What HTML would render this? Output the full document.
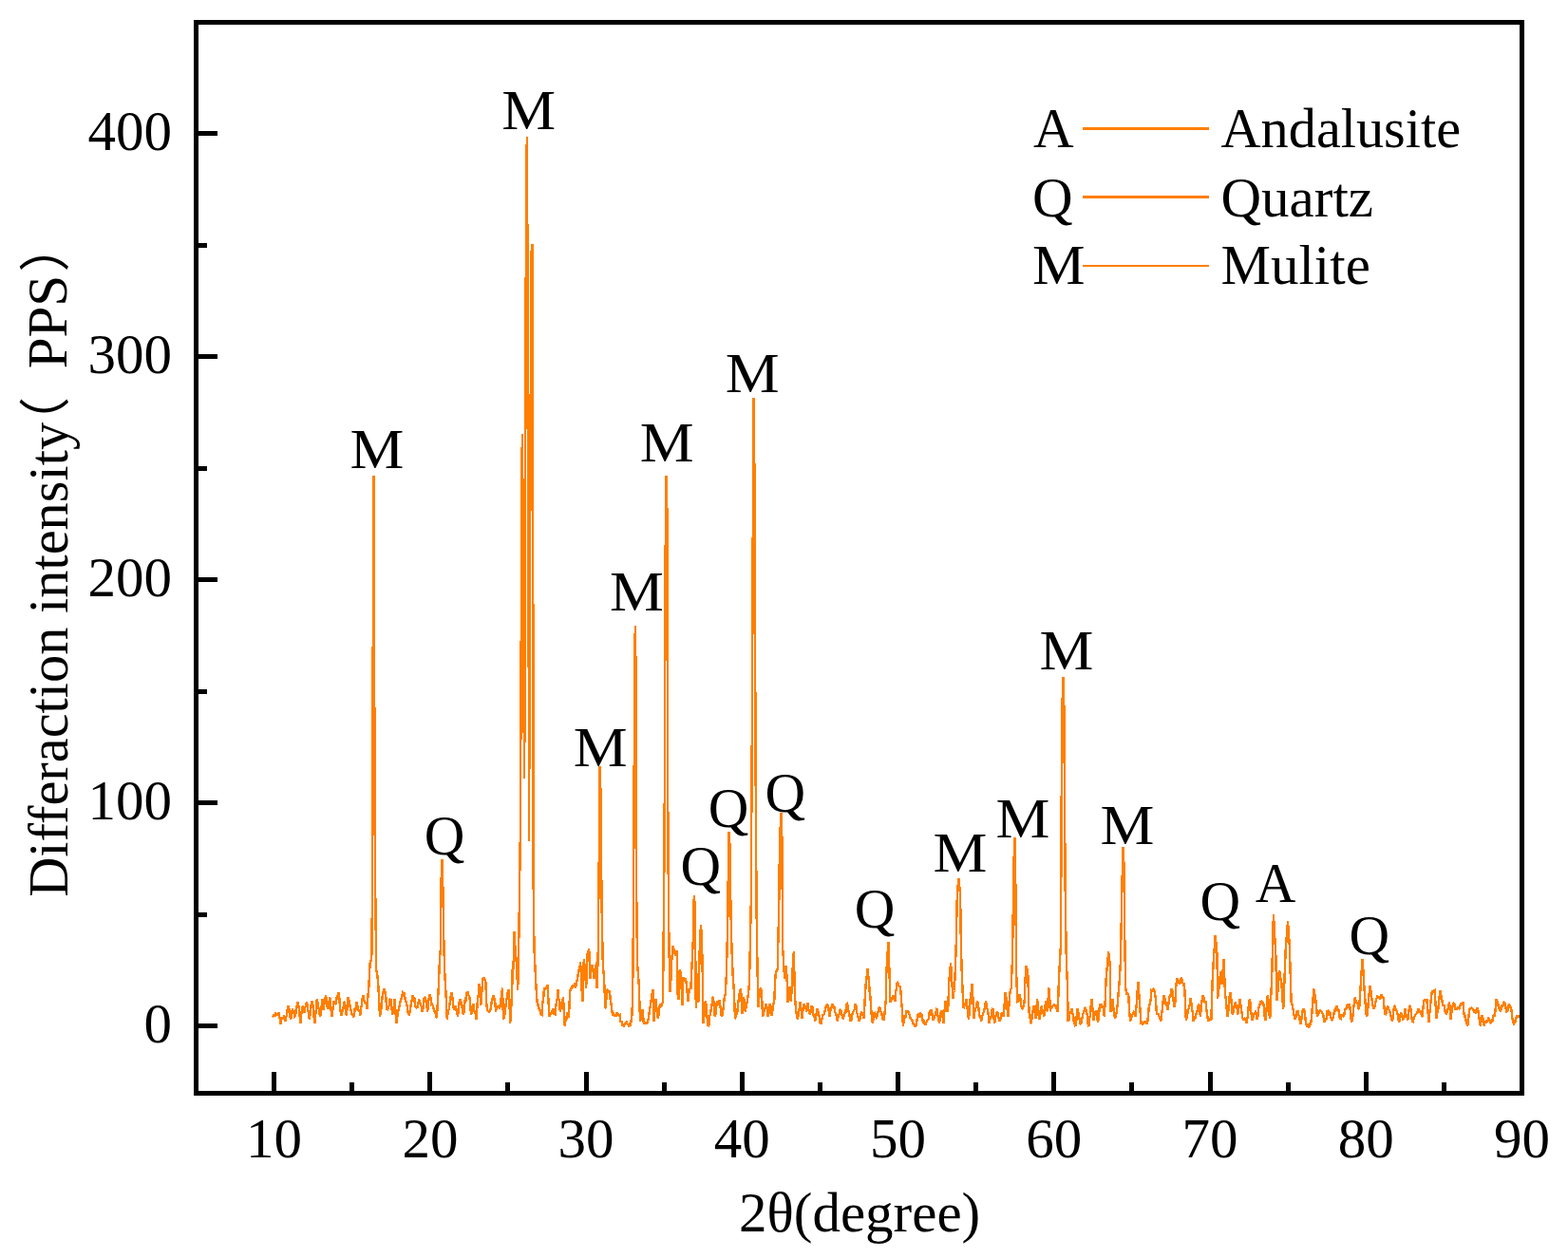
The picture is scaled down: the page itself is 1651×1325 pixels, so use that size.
<!DOCTYPE html><html><head><meta charset="utf-8"><style>html,body{margin:0;padding:0;background:#fff;overflow:hidden}svg{display:block}</style></head><body>
<svg width="1651" height="1325" viewBox="0 0 1651 1325">
<rect width="1651" height="1325" fill="#fff"/>
<path d="M287.0,1071.5 L287.8,1069.8 L288.6,1068.1 L289.4,1071.0 L290.2,1066.6 L291.0,1069.0 L291.8,1069.2 L292.5,1068.1 L293.2,1066.0 L294.0,1069.0 L294.9,1073.9 L295.7,1078.7 L296.6,1072.1 L297.6,1071.8 L298.4,1072.2 L299.1,1070.7 L299.9,1071.7 L300.6,1075.4 L301.4,1070.8 L302.1,1069.5 L302.9,1060.6 L303.6,1059.1 L304.4,1062.1 L305.2,1069.7 L306.0,1073.7 L306.9,1070.9 L307.9,1062.1 L308.7,1065.5 L309.5,1067.1 L310.3,1070.6 L311.1,1069.9 L312.0,1059.6 L312.9,1061.2 L313.7,1054.8 L314.6,1061.0 L315.4,1067.6 L316.3,1077.7 L317.1,1068.9 L318.0,1064.0 L318.8,1059.1 L319.7,1065.0 L320.6,1066.7 L321.4,1060.6 L322.2,1059.3 L323.0,1054.8 L323.9,1062.0 L324.9,1066.5 L325.8,1073.7 L326.7,1067.7 L327.6,1058.1 L328.5,1054.8 L329.2,1057.5 L330.0,1064.3 L330.8,1073.2 L331.5,1077.7 L332.3,1068.6 L333.1,1059.2 L333.9,1051.8 L334.7,1057.2 L335.4,1061.2 L336.2,1065.0 L337.0,1071.2 L337.8,1066.9 L338.6,1060.0 L339.4,1052.3 L340.6,1063.7 L341.4,1056.8 L342.2,1053.8 L343.0,1048.1 L343.8,1053.1 L344.6,1060.4 L345.4,1062.7 L346.3,1057.9 L347.2,1050.0 L348.0,1055.6 L348.9,1067.4 L349.7,1071.2 L350.6,1060.7 L351.5,1055.3 L352.3,1055.2 L353.1,1058.0 L353.9,1056.7 L354.7,1050.5 L355.5,1048.9 L356.3,1045.1 L357.1,1048.0 L357.8,1058.4 L358.6,1065.1 L359.3,1069.4 L360.2,1066.2 L361.1,1064.7 L362.1,1057.2 L363.0,1054.8 L363.9,1063.4 L364.8,1069.4 L365.7,1060.3 L366.6,1050.0 L367.4,1054.0 L368.1,1056.7 L368.9,1062.8 L369.6,1064.0 L370.4,1068.8 L371.1,1067.4 L371.9,1070.5 L372.7,1071.2 L373.4,1064.1 L374.2,1064.4 L374.9,1059.9 L375.7,1054.8 L376.6,1061.8 L377.5,1064.3 L378.4,1064.3 L379.3,1069.4 L380.1,1062.2 L381.0,1057.6 L381.8,1050.0 L382.6,1048.7 L383.4,1053.5 L384.2,1055.7 L385.0,1055.8 L385.8,1057.8 L386.6,1062.7 L387.5,1047.8 L388.4,1038.8 L389.6,1014.5 L390.6,1011.6 L391.5,1005.0 L392.2,880.0 L392.6,706.0 L393.0,624.0 L393.4,501.0 L393.9,600.0 L394.3,739.0 L394.7,880.0 L395.5,965.0 L396.3,1021.8 L397.2,1025.6 L398.1,1034.5 L399.1,1051.1 L400.0,1071.2 L400.8,1064.4 L401.7,1061.6 L402.5,1050.2 L403.4,1046.6 L404.2,1040.9 L405.1,1043.8 L406.0,1046.0 L407.2,1062.7 L408.0,1063.2 L408.9,1060.7 L409.7,1058.9 L410.6,1052.9 L411.4,1052.3 L412.3,1059.9 L413.2,1068.7 L414.0,1062.3 L414.9,1060.4 L415.7,1052.3 L416.6,1068.1 L417.5,1077.7 L418.2,1071.1 L419.0,1066.9 L419.8,1063.1 L420.5,1060.6 L421.4,1054.9 L422.4,1052.7 L423.3,1049.6 L424.2,1045.1 L425.0,1045.8 L425.8,1046.3 L426.6,1052.0 L427.4,1054.8 L428.3,1057.8 L429.1,1062.5 L430.0,1068.4 L430.8,1068.7 L431.7,1064.8 L432.6,1058.5 L433.6,1054.0 L434.5,1048.1 L435.3,1052.0 L436.2,1050.4 L437.0,1058.9 L437.9,1060.7 L438.7,1061.5 L439.5,1061.0 L440.3,1057.4 L441.1,1052.3 L442.0,1054.9 L442.9,1058.3 L443.8,1059.7 L444.7,1065.7 L445.5,1061.4 L446.4,1052.3 L447.2,1050.0 L447.9,1051.0 L448.7,1055.9 L449.4,1059.5 L450.2,1065.7 L451.1,1055.8 L452.0,1048.1 L452.8,1048.4 L453.6,1051.3 L454.4,1058.0 L455.2,1057.6 L455.9,1059.3 L456.7,1063.1 L457.5,1066.0 L458.3,1064.5 L459.1,1072.0 L459.9,1071.2 L460.8,1057.0 L461.7,1041.2 L462.9,1012.0 L463.8,1000.0 L464.5,933.0 L465.2,906.0 L465.8,906.0 L466.5,944.0 L467.5,1000.0 L468.4,1027.9 L469.6,1047.8 L470.8,1073.7 L471.5,1067.4 L472.3,1064.2 L473.0,1062.0 L473.8,1055.2 L474.7,1049.6 L475.5,1044.8 L476.4,1050.4 L477.3,1061.2 L478.0,1062.9 L478.8,1063.3 L479.5,1059.3 L480.4,1062.9 L481.2,1066.8 L482.1,1070.7 L482.9,1061.7 L483.7,1055.6 L484.5,1052.1 L485.4,1055.1 L486.4,1058.7 L487.3,1066.6 L488.2,1068.4 L488.9,1060.2 L489.7,1053.4 L490.4,1053.8 L491.2,1044.8 L491.9,1046.1 L492.7,1044.7 L493.4,1048.5 L494.2,1049.4 L495.1,1056.0 L496.0,1069.0 L496.8,1065.2 L497.7,1064.2 L498.5,1056.9 L499.2,1063.6 L500.0,1066.7 L500.8,1068.0 L501.5,1073.9 L502.2,1063.4 L503.0,1052.5 L503.8,1047.1 L504.5,1035.7 L505.4,1047.4 L506.3,1058.7 L507.2,1046.8 L508.2,1031.2 L508.9,1030.0 L509.7,1029.2 L510.4,1033.1 L511.2,1030.9 L512.4,1059.0 L513.1,1063.9 L513.9,1064.6 L514.6,1065.9 L515.4,1065.4 L516.3,1064.0 L517.1,1060.0 L518.0,1053.0 L518.8,1051.4 L519.7,1047.8 L520.5,1052.7 L521.3,1056.3 L522.1,1065.4 L522.9,1060.8 L523.7,1061.2 L524.5,1059.7 L525.3,1061.2 L526.1,1061.7 L526.9,1057.2 L528.0,1048.5 L529.0,1040.6 L530.0,1073.9 L530.8,1071.9 L531.5,1067.4 L532.2,1062.2 L533.0,1054.2 L533.8,1050.3 L534.5,1046.3 L535.2,1043.4 L536.0,1042.3 L537.2,1078.1 L538.1,1062.3 L539.0,1050.6 L539.7,1021.5 L540.5,1020.0 L541.6,981.3 L542.5,1000.0 L543.5,1010.0 L544.4,1024.3 L545.2,1042.7 L546.3,990.0 L546.9,948.0 L548.0,866.0 L549.0,600.0 L549.8,457.0 L550.5,520.0 L551.5,750.0 L552.2,819.7 L553.2,500.0 L554.0,185.0 L554.9,144.0 L555.6,300.0 L556.2,377.0 L557.0,885.7 L557.8,700.0 L558.8,391.0 L559.6,265.0 L560.4,257.0 L561.0,400.0 L561.7,937.0 L562.5,1000.0 L563.3,1015.4 L564.1,1032.5 L565.0,1048.0 L565.6,1055.3 L566.3,1057.2 L567.1,1061.9 L568.0,1061.8 L568.8,1065.3 L569.7,1068.7 L570.5,1069.0 L571.3,1056.6 L572.2,1051.0 L573.0,1040.3 L573.9,1042.4 L574.8,1040.8 L575.7,1039.9 L576.6,1037.5 L577.5,1054.1 L578.4,1070.9 L579.3,1066.9 L580.1,1069.2 L581.0,1064.3 L581.8,1065.7 L582.7,1061.8 L583.6,1068.3 L584.5,1068.4 L585.2,1061.2 L586.0,1054.7 L586.8,1051.9 L587.5,1042.3 L588.3,1051.7 L589.1,1055.9 L589.9,1066.0 L590.7,1059.4 L591.5,1055.5 L592.2,1056.5 L593.0,1049.7 L593.9,1067.5 L594.8,1081.2 L595.6,1073.7 L596.4,1073.3 L597.2,1066.0 L598.1,1071.7 L599.0,1070.9 L600.2,1042.0 L601.1,1042.6 L601.9,1040.1 L602.8,1041.0 L603.6,1037.7 L604.5,1039.7 L605.3,1035.2 L606.1,1040.4 L606.9,1036.0 L607.8,1032.2 L608.7,1026.3 L609.5,1022.1 L610.3,1020.6 L611.1,1013.3 L611.9,1026.8 L612.7,1043.7 L613.5,1055.1 L614.1,1034.6 L614.8,1009.7 L615.6,1018.0 L616.4,1028.6 L617.2,1040.6 L618.4,1005.1 L619.3,1002.2 L620.2,999.3 L621.4,1030.9 L622.2,1024.6 L623.0,1019.4 L623.8,1016.3 L624.8,1024.2 L625.7,1030.9 L626.5,1023.4 L627.3,1018.6 L628.1,1013.3 L628.7,1041.2 L629.8,1000.0 L630.8,900.0 L631.7,807.0 L632.6,840.0 L633.5,950.0 L634.1,982.7 L634.8,1015.4 L635.7,1026.2 L636.6,1042.0 L637.2,1062.4 L638.1,1055.8 L639.0,1043.6 L639.8,1042.8 L640.5,1043.8 L641.2,1044.8 L642.0,1044.5 L642.8,1054.1 L643.6,1057.6 L644.4,1065.0 L645.2,1069.4 L646.1,1068.1 L646.9,1069.7 L647.7,1069.9 L648.5,1069.8 L649.3,1066.4 L650.1,1069.2 L650.9,1067.5 L651.7,1069.6 L652.6,1069.0 L653.5,1077.1 L654.4,1075.6 L655.3,1080.6 L656.2,1079.6 L657.1,1080.6 L658.1,1078.7 L659.0,1077.5 L659.8,1076.8 L660.6,1078.7 L661.4,1079.4 L662.2,1081.5 L663.0,1077.4 L663.8,1080.6 L664.7,1074.5 L665.6,1067.5 L666.5,1020.0 L667.3,900.0 L667.8,788.0 L668.2,717.0 L668.8,659.0 L669.3,687.0 L669.8,800.0 L670.3,950.0 L671.0,1014.2 L671.7,1022.7 L672.9,1039.7 L673.5,1060.3 L674.1,1076.3 L674.9,1070.4 L675.7,1066.3 L676.5,1063.6 L677.7,1076.6 L678.5,1078.8 L679.2,1077.4 L680.0,1078.1 L680.7,1078.1 L681.5,1076.9 L682.4,1075.0 L683.2,1069.3 L684.0,1063.9 L684.7,1060.1 L685.5,1054.4 L686.2,1049.4 L687.4,1042.3 L688.6,1075.7 L689.5,1064.0 L690.4,1052.1 L691.2,1060.5 L692.1,1065.9 L692.9,1073.3 L693.8,1066.4 L694.7,1059.0 L695.5,1058.1 L696.2,1060.5 L697.0,1058.1 L697.7,1056.0 L698.3,1025.1 L699.5,900.0 L700.3,700.0 L700.8,550.0 L701.7,501.0 L702.3,528.0 L702.8,729.0 L703.5,900.0 L704.5,1000.0 L705.6,1045.4 L706.5,1030.0 L707.4,1009.4 L708.6,995.8 L709.5,1000.0 L710.4,1004.2 L711.2,1006.6 L712.0,1001.4 L712.8,1002.4 L713.5,1047.0 L714.7,1052.7 L715.3,1021.8 L716.2,1023.3 L717.1,1024.0 L718.3,1059.4 L719.5,1029.1 L720.3,1032.4 L721.1,1032.0 L721.9,1030.0 L722.7,1035.9 L723.6,1044.2 L724.4,1055.1 L725.6,1043.3 L726.5,1041.7 L727.4,1040.9 L728.6,1015.4 L729.8,990.0 L730.5,951.0 L730.9,943.0 L731.5,951.0 L732.2,1000.0 L732.8,1062.4 L733.4,1025.4 L734.3,1037.9 L735.3,1056.3 L736.1,1023.1 L737.0,990.0 L738.0,974.3 L739.0,990.0 L740.1,1042.0 L740.7,1078.1 L741.5,1068.5 L742.3,1059.5 L743.1,1054.5 L743.9,1064.6 L744.8,1074.2 L745.6,1081.2 L746.4,1079.4 L747.1,1069.9 L747.9,1069.2 L748.6,1063.3 L749.4,1059.9 L750.2,1051.8 L751.0,1049.7 L751.9,1062.9 L752.8,1070.9 L753.7,1066.9 L754.6,1056.6 L755.4,1054.2 L756.2,1058.6 L756.9,1054.3 L757.7,1054.5 L758.5,1059.9 L759.3,1068.8 L760.1,1070.9 L761.0,1067.2 L761.9,1059.0 L762.8,1050.7 L763.7,1047.0 L764.9,1026.3 L765.6,997.1 L766.3,968.0 L767.0,900.0 L767.5,876.0 L768.4,889.0 L769.5,960.0 L770.5,1000.0 L771.6,1026.3 L772.8,1043.3 L774.0,1073.3 L774.8,1070.1 L775.6,1067.9 L776.4,1065.1 L777.2,1057.1 L778.1,1049.3 L778.9,1044.5 L780.1,1041.2 L781.3,1068.4 L782.2,1057.8 L783.1,1049.7 L784.0,1059.4 L784.9,1066.0 L785.7,1057.6 L786.6,1056.1 L787.4,1050.6 L788.6,1040.9 L789.2,1026.3 L790.0,988.1 L790.8,950.0 L791.5,825.0 L792.2,700.0 L793.1,465.0 L793.6,419.0 L794.1,439.0 L794.8,600.0 L795.8,850.0 L796.8,980.0 L797.6,1022.7 L798.3,1061.2 L799.2,1052.0 L800.1,1043.6 L801.0,1040.8 L801.9,1044.5 L803.1,1070.9 L804.0,1066.3 L804.9,1064.7 L805.8,1060.5 L806.7,1056.9 L807.6,1060.9 L808.5,1070.9 L809.5,1067.2 L810.4,1056.9 L811.3,1064.9 L812.2,1069.0 L813.0,1068.8 L813.7,1059.5 L814.5,1057.2 L815.2,1055.4 L816.4,1028.8 L817.2,1022.4 L818.0,1024.2 L818.8,1019.0 L819.5,984.5 L820.3,950.0 L821.0,883.0 L821.8,869.5 L822.5,856.0 L823.3,878.0 L823.8,950.0 L824.3,1000.9 L825.2,1014.3 L826.1,1030.9 L827.0,1021.4 L827.9,1017.0 L828.8,1036.1 L829.7,1056.3 L830.7,1050.3 L831.6,1038.8 L832.8,1055.1 L833.5,1044.1 L834.3,1027.1 L835.0,1013.2 L835.8,1002.4 L837.0,1050.6 L838.2,1063.9 L839.1,1071.5 L840.0,1073.3 L840.8,1067.7 L841.7,1062.5 L842.5,1055.1 L843.4,1061.4 L844.3,1073.3 L845.1,1064.8 L845.9,1063.6 L846.7,1056.9 L847.5,1059.4 L848.3,1060.1 L849.1,1066.0 L850.3,1055.7 L851.1,1062.9 L852.0,1065.1 L852.8,1068.4 L853.7,1065.9 L854.6,1059.3 L855.5,1060.6 L856.4,1069.9 L857.3,1068.7 L858.2,1075.7 L859.2,1071.2 L860.3,1061.8 L861.1,1064.7 L862.0,1067.2 L862.8,1071.9 L863.7,1077.7 L864.5,1078.1 L865.4,1073.4 L866.4,1069.3 L867.3,1068.7 L868.1,1066.9 L869.0,1062.9 L869.8,1060.0 L870.7,1058.4 L871.5,1058.7 L872.4,1061.7 L873.3,1070.9 L874.2,1065.4 L875.1,1062.6 L876.1,1059.1 L877.0,1056.9 L877.8,1061.8 L878.6,1061.7 L879.4,1066.3 L880.2,1067.2 L881.0,1071.5 L881.8,1075.7 L882.7,1069.5 L883.6,1068.3 L884.5,1063.8 L885.4,1064.2 L886.2,1068.8 L887.1,1070.6 L887.9,1073.3 L888.7,1067.9 L889.6,1066.6 L890.4,1066.4 L891.3,1057.5 L892.1,1056.9 L893.0,1063.8 L893.9,1065.8 L894.8,1071.0 L895.7,1075.7 L896.5,1074.8 L897.3,1068.7 L898.2,1066.3 L899.0,1064.4 L899.8,1063.3 L900.6,1056.9 L901.4,1059.6 L902.3,1066.7 L903.1,1069.6 L904.0,1072.9 L904.8,1075.7 L905.5,1072.8 L906.3,1070.1 L907.0,1065.8 L907.8,1066.6 L908.8,1067.4 L909.7,1073.3 L910.9,1048.1 L911.7,1035.8 L912.5,1031.0 L913.3,1020.0 L914.1,1026.5 L914.9,1034.0 L915.7,1044.5 L916.5,1049.9 L917.2,1063.3 L918.0,1071.8 L918.8,1077.5 L919.7,1072.9 L920.6,1066.0 L921.4,1067.0 L922.2,1069.1 L923.0,1073.3 L923.8,1068.1 L924.6,1065.4 L925.4,1061.8 L926.3,1061.4 L927.2,1065.3 L928.1,1065.9 L929.1,1072.6 L930.0,1074.6 L930.9,1073.3 L931.8,1064.1 L932.7,1054.2 L933.3,1025.1 L934.3,1008.6 L935.4,992.1 L936.5,1024.2 L937.5,1056.3 L938.3,1051.9 L939.2,1054.2 L940.0,1048.4 L940.8,1049.3 L941.6,1051.9 L942.4,1055.1 L943.2,1044.6 L944.0,1040.2 L944.8,1033.9 L945.7,1036.1 L946.6,1038.6 L947.5,1038.9 L948.4,1043.3 L949.2,1055.8 L950.1,1064.8 L950.9,1080.6 L951.7,1076.1 L952.6,1072.0 L953.4,1071.2 L954.3,1065.8 L955.1,1066.0 L956.0,1064.2 L956.9,1067.6 L957.8,1068.6 L958.7,1072.4 L959.6,1073.5 L960.5,1074.8 L961.4,1078.0 L962.4,1078.8 L963.3,1080.6 L964.2,1080.6 L965.0,1079.2 L965.8,1071.9 L966.6,1068.7 L967.4,1067.5 L968.3,1072.0 L969.1,1066.3 L970.0,1070.2 L970.8,1068.7 L971.5,1074.4 L972.1,1078.1 L972.9,1074.3 L973.8,1079.1 L974.6,1078.8 L975.5,1076.3 L976.3,1074.8 L977.1,1074.2 L978.0,1072.4 L978.8,1065.6 L979.7,1066.0 L980.5,1063.6 L981.5,1068.5 L982.4,1073.3 L983.2,1073.3 L984.1,1070.8 L984.9,1068.6 L985.8,1064.7 L986.6,1061.8 L987.4,1069.7 L988.2,1073.5 L989.0,1077.5 L989.8,1074.4 L990.6,1066.8 L991.4,1064.2 L992.3,1068.0 L993.3,1078.1 L994.1,1067.7 L994.9,1061.4 L995.7,1054.5 L996.5,1055.6 L997.3,1064.5 L998.1,1066.0 L999.3,1033.6 L1000.2,1024.1 L1001.1,1013.9 L1001.9,1027.5 L1002.7,1040.2 L1003.5,1052.1 L1004.5,1043.5 L1005.4,1032.4 L1006.6,1000.9 L1007.2,970.5 L1007.9,940.0 L1008.7,932.5 L1009.5,925.0 L1010.3,934.2 L1011.1,943.4 L1011.8,990.0 L1012.6,1020.3 L1013.5,1041.3 L1014.4,1062.4 L1015.2,1056.4 L1016.0,1059.3 L1016.7,1056.4 L1017.5,1052.1 L1018.3,1059.4 L1019.1,1066.9 L1019.9,1073.9 L1020.8,1065.4 L1021.7,1051.8 L1022.6,1046.9 L1023.5,1035.7 L1024.5,1052.8 L1025.4,1073.3 L1026.3,1065.7 L1027.2,1062.3 L1028.1,1060.8 L1029.0,1054.5 L1029.8,1056.7 L1030.7,1064.6 L1031.5,1070.5 L1032.4,1071.4 L1033.2,1075.7 L1034.0,1071.4 L1034.8,1068.5 L1035.7,1066.3 L1036.5,1063.4 L1037.3,1058.8 L1038.1,1054.5 L1039.0,1061.4 L1039.9,1063.4 L1040.8,1069.8 L1041.7,1078.1 L1042.6,1072.4 L1043.5,1071.6 L1044.4,1064.5 L1045.3,1061.8 L1046.2,1070.4 L1047.2,1078.1 L1048.0,1071.6 L1048.7,1068.8 L1049.5,1067.0 L1050.2,1065.4 L1051.0,1070.0 L1051.8,1073.6 L1052.6,1075.7 L1053.4,1073.9 L1054.2,1068.2 L1055.0,1066.6 L1055.9,1068.9 L1056.8,1070.9 L1057.7,1057.6 L1058.6,1044.8 L1059.4,1051.1 L1060.2,1055.3 L1060.9,1067.1 L1061.7,1070.9 L1062.9,1050.6 L1063.8,1043.7 L1064.7,1040.9 L1065.9,1011.8 L1066.6,970.9 L1067.2,930.0 L1067.6,906.0 L1068.4,882.0 L1069.0,900.0 L1069.5,949.5 L1070.1,1022.7 L1070.8,1042.2 L1071.4,1055.1 L1072.3,1054.7 L1073.2,1048.4 L1074.0,1048.5 L1074.7,1054.8 L1075.5,1060.6 L1076.2,1061.8 L1077.0,1063.2 L1077.8,1058.0 L1078.6,1056.6 L1079.2,1038.5 L1080.4,1017.0 L1081.3,1020.1 L1082.3,1026.3 L1083.5,1066.3 L1084.3,1068.3 L1085.1,1077.2 L1085.9,1078.1 L1086.7,1069.9 L1087.5,1066.1 L1088.3,1059.3 L1089.1,1061.5 L1089.9,1068.8 L1090.7,1073.3 L1091.3,1065.8 L1092.0,1052.1 L1092.8,1056.9 L1093.6,1068.8 L1094.4,1073.9 L1095.2,1069.1 L1096.0,1066.8 L1096.8,1059.3 L1097.6,1064.5 L1098.4,1065.2 L1099.2,1070.9 L1100.1,1065.4 L1101.0,1054.5 L1101.9,1059.9 L1102.8,1065.4 L1103.8,1049.8 L1104.7,1040.6 L1105.9,1065.4 L1106.7,1060.1 L1107.5,1061.5 L1108.3,1059.7 L1109.1,1059.2 L1109.9,1058.1 L1110.7,1059.3 L1111.5,1058.5 L1112.2,1061.6 L1113.0,1063.1 L1113.8,1066.0 L1115.0,1030.0 L1115.9,1013.6 L1116.8,997.3 L1117.5,900.0 L1118.0,757.0 L1118.7,735.0 L1119.4,713.0 L1120.3,740.0 L1121.0,849.0 L1121.8,950.0 L1122.8,1010.6 L1124.0,1038.5 L1124.7,1075.7 L1125.6,1074.7 L1126.5,1065.7 L1127.4,1067.4 L1128.3,1062.4 L1129.1,1068.5 L1130.0,1067.3 L1130.8,1076.6 L1131.7,1078.9 L1132.5,1081.2 L1133.4,1074.2 L1134.3,1061.8 L1135.1,1064.4 L1135.8,1069.1 L1136.6,1073.3 L1137.4,1078.1 L1138.2,1079.0 L1139.0,1073.7 L1139.8,1070.6 L1140.5,1067.5 L1141.3,1065.7 L1142.0,1062.5 L1142.8,1061.8 L1143.7,1063.6 L1144.7,1068.8 L1145.6,1078.6 L1146.5,1081.2 L1147.2,1072.5 L1148.0,1069.6 L1148.8,1057.7 L1149.5,1052.1 L1150.4,1061.7 L1151.3,1074.5 L1152.0,1072.0 L1152.8,1067.2 L1153.5,1065.9 L1154.3,1064.2 L1155.2,1073.4 L1156.2,1076.3 L1157.1,1069.2 L1158.0,1056.9 L1158.9,1059.5 L1159.8,1058.8 L1160.7,1061.3 L1161.6,1059.0 L1162.8,1070.9 L1163.7,1054.0 L1164.6,1031.2 L1165.4,1021.9 L1166.3,1013.5 L1167.1,1002.4 L1168.0,1008.3 L1168.9,1020.3 L1169.5,1066.0 L1170.4,1060.6 L1171.3,1052.1 L1172.2,1060.1 L1173.1,1068.7 L1174.0,1071.5 L1174.9,1070.9 L1175.8,1065.3 L1176.7,1057.8 L1177.7,1044.8 L1178.6,1034.8 L1179.8,1014.2 L1180.7,972.1 L1181.5,930.0 L1182.6,892.0 L1183.4,910.0 L1184.3,990.0 L1185.2,1040.9 L1186.4,1048.1 L1187.3,1045.7 L1188.3,1049.4 L1189.2,1065.5 L1190.1,1075.7 L1191.0,1070.7 L1191.9,1070.7 L1192.8,1067.4 L1193.7,1066.0 L1194.6,1067.1 L1195.5,1070.9 L1196.2,1063.3 L1197.0,1055.6 L1197.8,1041.5 L1198.5,1033.9 L1199.5,1049.4 L1200.4,1062.7 L1201.6,1078.4 L1202.5,1077.0 L1203.3,1078.8 L1204.2,1077.7 L1205.0,1076.1 L1205.9,1076.1 L1206.7,1076.4 L1207.6,1078.4 L1208.4,1075.3 L1209.2,1066.6 L1210.0,1058.8 L1210.9,1057.6 L1211.7,1052.3 L1212.5,1043.0 L1213.4,1043.3 L1214.3,1041.9 L1215.2,1042.9 L1216.1,1045.7 L1217.0,1053.8 L1217.9,1067.5 L1218.8,1068.1 L1219.6,1068.0 L1220.5,1070.6 L1221.3,1072.4 L1222.2,1075.7 L1223.0,1069.2 L1223.7,1064.4 L1224.5,1056.5 L1225.2,1047.8 L1226.0,1050.4 L1226.9,1053.5 L1227.7,1057.4 L1228.6,1059.6 L1229.4,1063.6 L1230.3,1058.0 L1231.1,1051.7 L1232.0,1048.6 L1232.8,1048.9 L1233.7,1041.2 L1234.5,1043.7 L1235.2,1051.2 L1236.0,1057.1 L1236.7,1061.2 L1237.5,1053.8 L1238.3,1039.5 L1239.1,1031.5 L1239.9,1031.3 L1240.7,1032.5 L1241.4,1034.9 L1242.2,1036.9 L1243.1,1032.6 L1244.0,1029.1 L1244.8,1034.2 L1245.5,1035.5 L1246.2,1037.7 L1247.0,1037.2 L1247.9,1052.6 L1248.8,1074.5 L1250.0,1071.1 L1250.9,1062.8 L1251.8,1062.4 L1252.7,1058.6 L1253.6,1050.8 L1254.4,1056.8 L1255.2,1063.8 L1255.9,1066.1 L1256.7,1075.7 L1257.6,1071.8 L1258.5,1072.3 L1259.4,1068.5 L1260.3,1065.6 L1261.2,1063.2 L1262.1,1056.9 L1263.0,1062.1 L1263.9,1070.8 L1264.7,1060.7 L1265.6,1053.5 L1266.4,1048.4 L1267.2,1050.0 L1267.9,1052.5 L1268.7,1055.8 L1269.4,1054.2 L1270.2,1062.2 L1271.0,1068.1 L1271.8,1073.6 L1272.7,1075.4 L1273.6,1073.3 L1274.5,1074.0 L1275.4,1073.6 L1276.1,1049.9 L1276.7,1032.4 L1277.9,1009.4 L1278.8,997.4 L1279.7,985.4 L1280.6,995.0 L1281.5,1004.5 L1282.1,1051.5 L1283.0,1045.1 L1283.9,1034.8 L1284.8,1027.1 L1285.7,1023.0 L1286.3,1036.9 L1287.0,1030.9 L1287.8,1020.2 L1288.5,1010.3 L1289.2,1027.3 L1290.0,1046.9 L1290.8,1052.3 L1291.6,1061.1 L1292.4,1070.8 L1293.2,1065.4 L1293.9,1059.5 L1294.7,1049.1 L1295.4,1045.4 L1296.2,1050.3 L1297.0,1061.3 L1297.8,1069.0 L1298.6,1066.2 L1299.3,1061.6 L1300.1,1057.1 L1300.9,1055.7 L1301.7,1060.6 L1302.5,1060.8 L1303.3,1068.4 L1304.1,1061.6 L1304.9,1057.3 L1305.7,1052.1 L1306.5,1060.6 L1307.2,1063.8 L1308.0,1070.8 L1308.8,1073.6 L1309.6,1073.7 L1310.5,1072.4 L1311.3,1072.8 L1312.2,1077.9 L1313.0,1075.1 L1313.8,1070.7 L1314.5,1062.3 L1315.2,1054.6 L1316.0,1052.1 L1316.8,1059.8 L1317.6,1068.6 L1318.4,1075.1 L1319.3,1071.8 L1320.2,1068.0 L1321.2,1068.1 L1322.1,1064.2 L1323.3,1073.3 L1324.1,1072.6 L1325.0,1064.2 L1325.8,1059.2 L1326.7,1057.6 L1327.5,1055.1 L1328.3,1054.7 L1329.2,1056.5 L1330.0,1055.4 L1330.8,1059.9 L1331.6,1070.6 L1332.4,1075.1 L1333.2,1067.8 L1334.0,1057.3 L1334.8,1048.4 L1335.6,1054.7 L1336.4,1068.2 L1337.2,1073.3 L1338.1,1052.8 L1339.0,1034.8 L1340.0,998.9 L1340.9,963.0 L1341.7,977.2 L1342.5,991.5 L1343.3,1005.7 L1344.5,1053.9 L1345.3,1045.6 L1346.1,1031.1 L1346.9,1022.4 L1347.7,1024.6 L1348.5,1032.4 L1349.3,1034.8 L1350.2,1047.5 L1351.2,1063.0 L1352.0,1045.8 L1352.8,1022.4 L1353.6,1002.1 L1354.4,991.5 L1355.2,980.9 L1356.0,970.3 L1356.9,983.1 L1357.8,996.0 L1358.7,1025.7 L1359.6,1055.4 L1360.5,1057.7 L1361.4,1062.5 L1362.4,1068.3 L1363.3,1073.3 L1364.1,1071.6 L1364.9,1070.7 L1365.7,1064.8 L1366.5,1064.9 L1367.4,1069.2 L1368.2,1070.5 L1369.1,1078.2 L1369.9,1077.5 L1370.7,1070.0 L1371.5,1064.4 L1372.3,1062.4 L1373.2,1063.8 L1374.2,1070.4 L1375.1,1078.2 L1376.0,1079.9 L1376.8,1082.0 L1377.6,1080.4 L1378.4,1081.6 L1379.2,1080.6 L1380.0,1076.0 L1380.8,1076.6 L1381.6,1062.7 L1382.4,1056.0 L1383.2,1041.2 L1384.0,1048.0 L1384.9,1048.3 L1385.7,1056.6 L1386.9,1069.6 L1387.8,1069.4 L1388.7,1066.1 L1389.6,1064.7 L1390.5,1064.2 L1391.4,1065.6 L1392.2,1067.0 L1393.1,1068.4 L1393.9,1072.9 L1394.8,1076.9 L1395.7,1072.9 L1396.6,1073.9 L1397.5,1065.3 L1398.4,1064.8 L1399.2,1069.4 L1400.0,1065.6 L1400.8,1068.1 L1401.6,1072.7 L1402.4,1074.1 L1403.2,1073.3 L1404.1,1070.0 L1404.9,1064.6 L1405.8,1064.7 L1406.6,1061.2 L1407.5,1059.3 L1408.3,1065.0 L1409.2,1062.8 L1410.0,1066.8 L1410.9,1073.2 L1411.7,1073.3 L1412.6,1068.5 L1413.5,1069.6 L1414.5,1070.7 L1415.4,1068.8 L1416.3,1062.3 L1417.2,1063.9 L1418.1,1059.1 L1419.0,1057.7 L1419.9,1062.0 L1420.8,1057.5 L1421.6,1062.3 L1422.4,1072.1 L1423.2,1076.9 L1424.1,1072.9 L1425.1,1062.5 L1426.0,1055.3 L1426.9,1050.2 L1427.7,1055.9 L1428.6,1056.1 L1429.4,1056.3 L1430.3,1061.9 L1431.1,1063.0 L1432.0,1048.6 L1432.9,1035.1 L1433.8,1020.1 L1434.7,1010.3 L1435.6,1026.6 L1436.6,1042.2 L1437.5,1054.8 L1438.4,1068.4 L1439.2,1070.3 L1440.0,1066.2 L1440.9,1053.6 L1441.7,1045.7 L1442.6,1038.2 L1443.6,1045.3 L1444.6,1052.8 L1445.5,1058.9 L1446.3,1061.9 L1447.2,1061.8 L1448.2,1056.0 L1449.3,1051.8 L1450.2,1049.7 L1451.1,1050.5 L1452.1,1050.5 L1453.0,1053.0 L1453.9,1049.7 L1454.8,1047.5 L1455.6,1051.8 L1456.5,1049.7 L1457.5,1061.0 L1458.5,1069.0 L1459.4,1067.8 L1460.2,1064.1 L1461.1,1058.8 L1462.0,1062.8 L1462.9,1064.2 L1463.9,1067.4 L1464.8,1071.0 L1465.7,1075.2 L1466.5,1073.0 L1467.2,1064.1 L1468.0,1060.8 L1468.8,1058.8 L1469.6,1064.2 L1470.5,1064.4 L1471.3,1066.9 L1472.2,1070.4 L1473.0,1077.2 L1474.0,1072.2 L1475.0,1066.5 L1476.0,1069.1 L1477.1,1074.1 L1477.9,1073.3 L1478.8,1068.6 L1479.6,1061.9 L1480.5,1069.7 L1481.3,1069.2 L1482.2,1075.2 L1483.1,1066.9 L1483.9,1061.5 L1484.8,1058.8 L1485.7,1064.9 L1486.5,1072.5 L1487.4,1077.2 L1488.2,1074.7 L1489.0,1071.2 L1489.7,1070.3 L1490.5,1068.8 L1491.2,1067.9 L1492.0,1066.5 L1492.8,1065.3 L1493.5,1061.9 L1494.3,1065.9 L1495.2,1066.3 L1496.0,1064.2 L1496.9,1070.7 L1497.7,1070.0 L1498.5,1060.8 L1499.2,1054.4 L1500.0,1054.3 L1500.8,1052.4 L1501.5,1054.3 L1502.3,1052.1 L1503.3,1062.6 L1504.4,1077.2 L1505.3,1066.9 L1506.2,1058.4 L1507.1,1049.2 L1508.0,1043.0 L1508.8,1045.6 L1509.7,1043.5 L1510.5,1043.0 L1511.5,1056.9 L1512.6,1073.1 L1513.4,1066.4 L1514.2,1064.5 L1515.1,1055.3 L1515.9,1047.4 L1516.7,1043.3 L1517.5,1049.3 L1518.2,1052.2 L1519.0,1058.4 L1519.8,1059.0 L1520.7,1059.3 L1521.5,1064.8 L1522.4,1068.0 L1523.3,1067.0 L1524.2,1063.9 L1525.1,1061.2 L1526.0,1055.2 L1526.8,1061.3 L1527.5,1073.6 L1528.5,1065.0 L1529.6,1059.3 L1530.5,1057.1 L1531.4,1057.9 L1532.3,1063.6 L1533.1,1061.3 L1534.0,1064.0 L1534.9,1060.6 L1535.8,1061.8 L1536.7,1063.0 L1537.6,1058.8 L1538.6,1056.2 L1539.5,1058.4 L1540.4,1055.2 L1541.2,1065.8 L1541.9,1070.3 L1542.8,1070.1 L1543.7,1076.0 L1544.6,1078.6 L1545.5,1080.3 L1546.5,1069.4 L1547.6,1062.4 L1548.5,1062.2 L1549.4,1061.4 L1550.4,1062.5 L1551.3,1063.5 L1552.2,1065.9 L1553.0,1066.3 L1553.9,1066.3 L1554.7,1063.0 L1555.6,1061.4 L1556.4,1064.4 L1557.4,1071.2 L1558.4,1080.3 L1559.5,1076.2 L1560.5,1069.6 L1561.5,1072.8 L1562.5,1080.3 L1563.3,1077.6 L1564.0,1075.5 L1564.8,1078.1 L1565.6,1074.7 L1566.4,1075.5 L1567.2,1072.7 L1568.1,1073.5 L1568.9,1076.0 L1569.7,1077.2 L1570.5,1076.2 L1571.4,1075.4 L1572.2,1070.3 L1573.1,1069.4 L1573.9,1070.3 L1574.7,1062.5 L1575.4,1052.1 L1576.3,1054.5 L1577.1,1056.6 L1578.0,1061.0 L1578.8,1060.3 L1579.7,1065.3 L1580.5,1062.8 L1581.4,1059.6 L1582.3,1059.5 L1583.3,1056.1 L1584.2,1055.2 L1585.2,1059.7 L1586.2,1065.4 L1587.1,1065.1 L1587.9,1063.3 L1588.8,1057.2 L1589.8,1058.7 L1590.8,1062.1 L1591.6,1064.6 L1592.4,1072.8 L1593.2,1073.7 L1594.0,1080.3 L1594.8,1073.9 L1595.7,1077.0 L1596.5,1071.3 L1597.4,1069.9 L1598.2,1071.8 L1599.1,1068.8" fill="none" stroke="#ff7f00" stroke-width="2.4" stroke-linejoin="miter" stroke-miterlimit="2" shape-rendering="crispEdges"/>
<rect x="206.5" y="23.5" width="1396" height="1128" fill="none" stroke="#000" stroke-width="5"/>
<path d="M288.5,1149 V1129 M452.5,1149 V1129 M617.5,1149 V1129 M781.5,1149 V1129 M945.5,1149 V1129 M1109.5,1149 V1129 M1274.5,1149 V1129 M1438.5,1149 V1129 M1602.5,1149 V1129 M370.5,1149 V1140 M534.5,1149 V1140 M699.5,1149 V1140 M863.5,1149 V1140 M1027.5,1149 V1140 M1191.5,1149 V1140 M1356.5,1149 V1140 M1520.5,1149 V1140 M209,1080.5 H229 M209,845.5 H229 M209,610.5 H229 M209,375.5 H229 M209,140.5 H229 M209,963.5 H218 M209,728.5 H218 M209,493.5 H218 M209,258.5 H218 M209,23.5 H218" stroke="#000" stroke-width="5" fill="none"/>
<g font-family="'Liberation Serif', serif" font-size="59" fill="#000">
<text x="288.6" y="1219" text-anchor="middle">10</text>
<text x="452.9" y="1219" text-anchor="middle">20</text>
<text x="617.1" y="1219" text-anchor="middle">30</text>
<text x="781.3" y="1219" text-anchor="middle">40</text>
<text x="945.6" y="1219" text-anchor="middle">50</text>
<text x="1109.8" y="1219" text-anchor="middle">60</text>
<text x="1274.0" y="1219" text-anchor="middle">70</text>
<text x="1438.3" y="1219" text-anchor="middle">80</text>
<text x="1602.5" y="1219" text-anchor="middle">90</text>
<text x="181" y="1097.5" text-anchor="end">0</text>
<text x="181" y="862.5" text-anchor="end">100</text>
<text x="181" y="627.6" text-anchor="end">200</text>
<text x="181" y="392.6" text-anchor="end">300</text>
<text x="181" y="157.6" text-anchor="end">400</text>
<text transform="translate(397,493) scale(1.085,1)" text-anchor="middle">M</text>
<text x="468" y="900" text-anchor="middle">Q</text>
<text transform="translate(556.8,136.2) scale(1.085,1)" text-anchor="middle">M</text>
<text transform="translate(632.2,807) scale(1.085,1)" text-anchor="middle">M</text>
<text transform="translate(670.5,643.2) scale(1.085,1)" text-anchor="middle">M</text>
<text transform="translate(702.2,486.1) scale(1.085,1)" text-anchor="middle">M</text>
<text transform="translate(792.2,413.2) scale(1.085,1)" text-anchor="middle">M</text>
<text x="737.9" y="931.5" text-anchor="middle">Q</text>
<text x="767" y="871" text-anchor="middle">Q</text>
<text x="826.9" y="855" text-anchor="middle">Q</text>
<text x="921" y="976.7" text-anchor="middle">Q</text>
<text transform="translate(1010.9,918) scale(1.085,1)" text-anchor="middle">M</text>
<text transform="translate(1077,882.1) scale(1.085,1)" text-anchor="middle">M</text>
<text transform="translate(1123,705.4) scale(1.085,1)" text-anchor="middle">M</text>
<text transform="translate(1187,888.8) scale(1.085,1)" text-anchor="middle">M</text>
<text x="1284.8" y="969" text-anchor="middle">Q</text>
<text x="1343" y="949.9" text-anchor="middle">A</text>
<text x="1441.9" y="1004.5" text-anchor="middle">Q</text>
<text x="1088" y="155.3">A</text>
<text x="1087" y="227.5">Q</text>
<text transform="translate(1087,299.3) scale(1.06,1)">M</text>
<text x="1285.5" y="155.3" font-size="58.3">Andalusite</text>
<text x="1285.5" y="227.5" font-size="59">Quartz</text>
<text x="1285.5" y="299.3" font-size="59">Mulite</text>
<text x="778" y="1297.3">2θ(degree)</text>
<text transform="translate(71,944.8) rotate(-90)" x="0" y="0" font-size="58.4">Differaction intensity</text>
</g>
<text transform="translate(70.4,388.3) rotate(-90)" x="0" y="0" font-family="'Liberation Serif', serif" font-size="59">PPS</text>
<text transform="translate(66.8,472) rotate(-90)" x="0" y="0" font-family="Liberation Serif, Noto Sans CJK SC, sans-serif" font-size="54">（</text>
<text transform="translate(66.8,286.6) rotate(-90)" x="0" y="0" font-family="Liberation Serif, Noto Sans CJK SC, sans-serif" font-size="54">）</text>
<rect x="1140" y="134" width="133" height="3" fill="#ff7f00"/>
<rect x="1140" y="206" width="133" height="3" fill="#ff7f00"/>
<rect x="1140" y="279" width="133" height="2" fill="#ff7f00"/>
</svg></body></html>
